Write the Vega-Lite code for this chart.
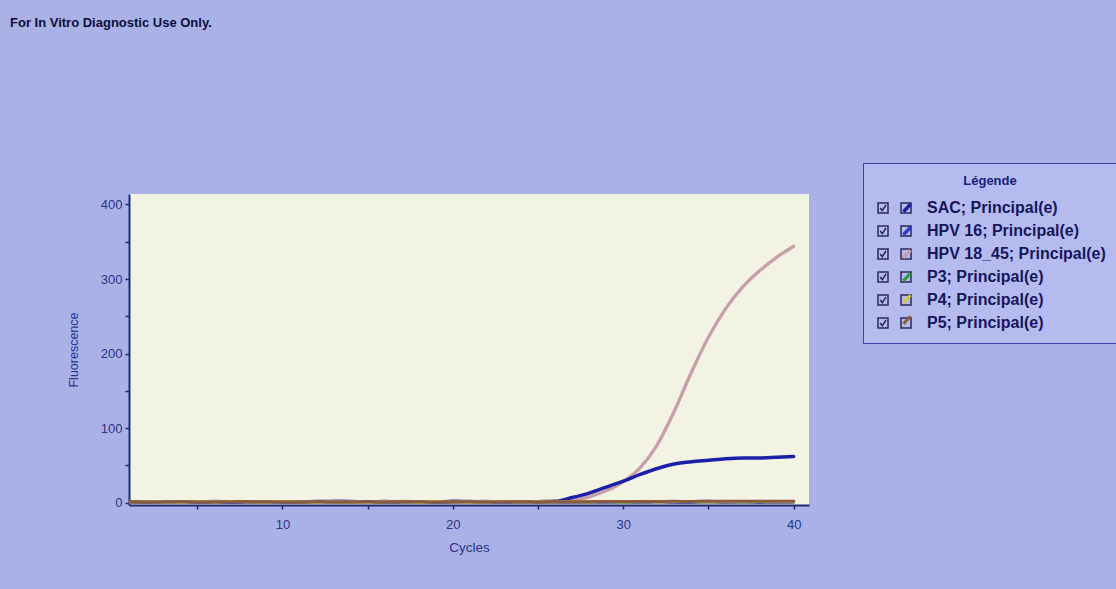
{
  "$schema": "https://vega.github.io/schema/vega-lite/v6.json",
  "width": 680,
  "height": 311,
  "autosize": {"type": "none"},
  "padding": {"left": 129, "top": 194, "right": 307, "bottom": 84},
  "background": "#a9b1e7",
  "view": {"fill": "#f3f3e4", "stroke": null},
  "title": {
    "text": "For In Vitro Diagnostic Use Only.",
    "anchor": "start",
    "frame": "group",
    "dx": -119,
    "offset": 133,
    "font": "Liberation Sans",
    "fontSize": 13,
    "fontWeight": "bold",
    "color": "#0e0e3a"
  },
  "datasets": {
    "curves": [
      {"c":1,"s":"P3","v":0.9},{"c":2,"s":"P3","v":1.4},{"c":3,"s":"P3","v":0.7},{"c":4,"s":"P3","v":1.2},{"c":5,"s":"P3","v":1.6},{"c":6,"s":"P3","v":0.8},{"c":7,"s":"P3","v":1.1},{"c":8,"s":"P3","v":0.6},{"c":9,"s":"P3","v":1.5},{"c":10,"s":"P3","v":1.3},
      {"c":11,"s":"P3","v":0.9},{"c":12,"s":"P3","v":1.2},{"c":13,"s":"P3","v":0.7},{"c":14,"s":"P3","v":1.0},{"c":15,"s":"P3","v":1.4},{"c":16,"s":"P3","v":0.8},{"c":17,"s":"P3","v":1.6},{"c":18,"s":"P3","v":0.9},{"c":19,"s":"P3","v":1.2},{"c":20,"s":"P3","v":0.7},
      {"c":21,"s":"P3","v":1.1},{"c":22,"s":"P3","v":1.5},{"c":23,"s":"P3","v":0.8},{"c":24,"s":"P3","v":1.3},{"c":25,"s":"P3","v":0.6},{"c":26,"s":"P3","v":1.0},{"c":27,"s":"P3","v":1.4},{"c":28,"s":"P3","v":0.9},{"c":29,"s":"P3","v":1.2},{"c":30,"s":"P3","v":0.7},
      {"c":31,"s":"P3","v":1.1},{"c":32,"s":"P3","v":1.5},{"c":33,"s":"P3","v":0.8},{"c":34,"s":"P3","v":1.0},{"c":35,"s":"P3","v":1.3},{"c":36,"s":"P3","v":0.9},{"c":37,"s":"P3","v":1.2},{"c":38,"s":"P3","v":0.7},{"c":39,"s":"P3","v":1.1},{"c":40,"s":"P3","v":1.0},

      {"c":1,"s":"HPV 18_45","v":0.8},{"c":2,"s":"HPV 18_45","v":1.2},{"c":3,"s":"HPV 18_45","v":1.0},{"c":4,"s":"HPV 18_45","v":1.5},{"c":5,"s":"HPV 18_45","v":0.7},{"c":6,"s":"HPV 18_45","v":1.3},{"c":7,"s":"HPV 18_45","v":1.1},{"c":8,"s":"HPV 18_45","v":0.9},{"c":9,"s":"HPV 18_45","v":1.4},{"c":10,"s":"HPV 18_45","v":1.6},
      {"c":11,"s":"HPV 18_45","v":1.2},{"c":12,"s":"HPV 18_45","v":1.5},{"c":13,"s":"HPV 18_45","v":0.8},{"c":14,"s":"HPV 18_45","v":1.1},{"c":15,"s":"HPV 18_45","v":1.3},{"c":16,"s":"HPV 18_45","v":1.0},{"c":17,"s":"HPV 18_45","v":1.7},{"c":18,"s":"HPV 18_45","v":1.4},{"c":19,"s":"HPV 18_45","v":1.2},{"c":20,"s":"HPV 18_45","v":0.9},
      {"c":21,"s":"HPV 18_45","v":1.1},{"c":22,"s":"HPV 18_45","v":1.3},{"c":23,"s":"HPV 18_45","v":1.0},{"c":24,"s":"HPV 18_45","v":1.4},{"c":25,"s":"HPV 18_45","v":1.2},{"c":26,"s":"HPV 18_45","v":1.5},{"c":27,"s":"HPV 18_45","v":3},{"c":28,"s":"HPV 18_45","v":8},{"c":29,"s":"HPV 18_45","v":16},{"c":30,"s":"HPV 18_45","v":28},
      {"c":31,"s":"HPV 18_45","v":47},{"c":32,"s":"HPV 18_45","v":78},{"c":33,"s":"HPV 18_45","v":123},{"c":34,"s":"HPV 18_45","v":175},{"c":35,"s":"HPV 18_45","v":222},{"c":36,"s":"HPV 18_45","v":260},{"c":37,"s":"HPV 18_45","v":289},{"c":38,"s":"HPV 18_45","v":311},{"c":39,"s":"HPV 18_45","v":329},{"c":40,"s":"HPV 18_45","v":344},

      {"c":1,"s":"SAC","v":1.1},{"c":2,"s":"SAC","v":0.7},{"c":3,"s":"SAC","v":1.3},{"c":4,"s":"SAC","v":1.0},{"c":5,"s":"SAC","v":0.8},{"c":6,"s":"SAC","v":1.4},{"c":7,"s":"SAC","v":1.2},{"c":8,"s":"SAC","v":0.6},{"c":9,"s":"SAC","v":1.5},{"c":10,"s":"SAC","v":1.1},
      {"c":11,"s":"SAC","v":0.9},{"c":12,"s":"SAC","v":1.6},{"c":13,"s":"SAC","v":1.8},{"c":14,"s":"SAC","v":1.4},{"c":15,"s":"SAC","v":1.2},{"c":16,"s":"SAC","v":1.7},{"c":17,"s":"SAC","v":1.0},{"c":18,"s":"SAC","v":1.3},{"c":19,"s":"SAC","v":0.8},{"c":20,"s":"SAC","v":1.9},
      {"c":21,"s":"SAC","v":1.6},{"c":22,"s":"SAC","v":1.4},{"c":23,"s":"SAC","v":1.1},{"c":24,"s":"SAC","v":1.0},{"c":25,"s":"SAC","v":1.5},{"c":26,"s":"SAC","v":2},{"c":27,"s":"SAC","v":7},{"c":28,"s":"SAC","v":13},{"c":29,"s":"SAC","v":21},{"c":30,"s":"SAC","v":29},
      {"c":31,"s":"SAC","v":38},{"c":32,"s":"SAC","v":46},{"c":33,"s":"SAC","v":52},{"c":34,"s":"SAC","v":55},{"c":35,"s":"SAC","v":57},{"c":36,"s":"SAC","v":59},{"c":37,"s":"SAC","v":60},{"c":38,"s":"SAC","v":60},{"c":39,"s":"SAC","v":61},{"c":40,"s":"SAC","v":62},

      {"c":1,"s":"HPV 16","v":1.2},{"c":2,"s":"HPV 16","v":0.8},{"c":3,"s":"HPV 16","v":1.5},{"c":4,"s":"HPV 16","v":0.6},{"c":5,"s":"HPV 16","v":1.1},{"c":6,"s":"HPV 16","v":1.7},{"c":7,"s":"HPV 16","v":0.9},{"c":8,"s":"HPV 16","v":1.3},{"c":9,"s":"HPV 16","v":0.5},{"c":10,"s":"HPV 16","v":1.0},
      {"c":11,"s":"HPV 16","v":1.4},{"c":12,"s":"HPV 16","v":0.7},{"c":13,"s":"HPV 16","v":1.6},{"c":14,"s":"HPV 16","v":1.9},{"c":15,"s":"HPV 16","v":0.8},{"c":16,"s":"HPV 16","v":1.2},{"c":17,"s":"HPV 16","v":0.6},{"c":18,"s":"HPV 16","v":1.5},{"c":19,"s":"HPV 16","v":1.0},{"c":20,"s":"HPV 16","v":0.9},
      {"c":21,"s":"HPV 16","v":1.3},{"c":22,"s":"HPV 16","v":1.8},{"c":23,"s":"HPV 16","v":0.7},{"c":24,"s":"HPV 16","v":1.1},{"c":25,"s":"HPV 16","v":1.4},{"c":26,"s":"HPV 16","v":0.6},{"c":27,"s":"HPV 16","v":1.0},{"c":28,"s":"HPV 16","v":1.2},{"c":29,"s":"HPV 16","v":0.8},{"c":30,"s":"HPV 16","v":1.5},
      {"c":31,"s":"HPV 16","v":0.9},{"c":32,"s":"HPV 16","v":1.3},{"c":33,"s":"HPV 16","v":0.7},{"c":34,"s":"HPV 16","v":1.1},{"c":35,"s":"HPV 16","v":1.6},{"c":36,"s":"HPV 16","v":0.8},{"c":37,"s":"HPV 16","v":1.2},{"c":38,"s":"HPV 16","v":1.0},{"c":39,"s":"HPV 16","v":0.9},{"c":40,"s":"HPV 16","v":1.3},

      {"c":1,"s":"P4","v":1.0},{"c":2,"s":"P4","v":1.3},{"c":3,"s":"P4","v":1.1},{"c":4,"s":"P4","v":0.8},{"c":5,"s":"P4","v":1.4},{"c":6,"s":"P4","v":1.2},{"c":7,"s":"P4","v":1.6},{"c":8,"s":"P4","v":1.0},{"c":9,"s":"P4","v":0.9},{"c":10,"s":"P4","v":1.5},
      {"c":11,"s":"P4","v":1.1},{"c":12,"s":"P4","v":0.8},{"c":13,"s":"P4","v":1.3},{"c":14,"s":"P4","v":1.0},{"c":15,"s":"P4","v":0.7},{"c":16,"s":"P4","v":1.4},{"c":17,"s":"P4","v":1.2},{"c":18,"s":"P4","v":0.9},{"c":19,"s":"P4","v":1.5},{"c":20,"s":"P4","v":1.1},
      {"c":21,"s":"P4","v":0.8},{"c":22,"s":"P4","v":1.2},{"c":23,"s":"P4","v":1.4},{"c":24,"s":"P4","v":1.0},{"c":25,"s":"P4","v":1.3},{"c":26,"s":"P4","v":1.1},{"c":27,"s":"P4","v":1.5},{"c":28,"s":"P4","v":1.2},{"c":29,"s":"P4","v":1.4},{"c":30,"s":"P4","v":1.3},
      {"c":31,"s":"P4","v":1.5},{"c":32,"s":"P4","v":1.2},{"c":33,"s":"P4","v":1.4},{"c":34,"s":"P4","v":1.6},{"c":35,"s":"P4","v":1.3},{"c":36,"s":"P4","v":1.5},{"c":37,"s":"P4","v":1.4},{"c":38,"s":"P4","v":1.6},{"c":39,"s":"P4","v":1.5},{"c":40,"s":"P4","v":1.4},

      {"c":1,"s":"P5","v":1.3},{"c":2,"s":"P5","v":1.0},{"c":3,"s":"P5","v":1.2},{"c":4,"s":"P5","v":1.5},{"c":5,"s":"P5","v":0.9},{"c":6,"s":"P5","v":1.1},{"c":7,"s":"P5","v":1.4},{"c":8,"s":"P5","v":1.6},{"c":9,"s":"P5","v":1.0},{"c":10,"s":"P5","v":1.2},
      {"c":11,"s":"P5","v":0.8},{"c":12,"s":"P5","v":1.3},{"c":13,"s":"P5","v":1.1},{"c":14,"s":"P5","v":0.9},{"c":15,"s":"P5","v":1.2},{"c":16,"s":"P5","v":1.0},{"c":17,"s":"P5","v":1.4},{"c":18,"s":"P5","v":1.3},{"c":19,"s":"P5","v":0.9},{"c":20,"s":"P5","v":1.5},
      {"c":21,"s":"P5","v":1.2},{"c":22,"s":"P5","v":1.0},{"c":23,"s":"P5","v":1.3},{"c":24,"s":"P5","v":1.4},{"c":25,"s":"P5","v":1.1},{"c":26,"s":"P5","v":1.6},{"c":27,"s":"P5","v":1.3},{"c":28,"s":"P5","v":1.5},{"c":29,"s":"P5","v":1.7},{"c":30,"s":"P5","v":1.6},
      {"c":31,"s":"P5","v":1.8},{"c":32,"s":"P5","v":1.7},{"c":33,"s":"P5","v":1.9},{"c":34,"s":"P5","v":1.8},{"c":35,"s":"P5","v":2.0},{"c":36,"s":"P5","v":1.9},{"c":37,"s":"P5","v":2.0},{"c":38,"s":"P5","v":2.1},{"c":39,"s":"P5","v":2.0},{"c":40,"s":"P5","v":2.1}
    ],
    "boxes": [
      {"label": "SAC; Principal(e)"},
      {"label": "HPV 16; Principal(e)"},
      {"label": "HPV 18_45; Principal(e)"},
      {"label": "P3; Principal(e)"},
      {"label": "P4; Principal(e)"},
      {"label": "P5; Principal(e)"}
    ]
  },
  "layer": [
    {
      "data": {"name": "curves"},
      "mark": {"type": "line", "interpolate": "monotone", "clip": true, "strokeCap": "round"},
      "encoding": {
        "x": {
          "field": "c", "type": "quantitative",
          "scale": {"domain": [1, 40.9], "nice": false, "zero": false},
          "axis": {
            "title": "Cycles",
            "values": [5, 10, 15, 20, 25, 30, 35, 40],
            "labelExpr": "datum.value % 10 === 0 ? datum.label : ''",
            "grid": false,
            "domainColor": "#1e2a6e", "domainWidth": 2,
            "tickColor": "#1e2a6e", "tickSize": 4, "tickWidth": 1.5,
            "labelColor": "#2a3585", "labelFont": "Liberation Sans", "labelFontSize": 13, "labelPadding": 9,
            "titleColor": "#2a3585", "titleFont": "Liberation Sans", "titleFontSize": 13.5, "titleFontWeight": "normal", "titlePadding": 9
          }
        },
        "y": {
          "field": "v", "type": "quantitative",
          "scale": {"domain": [-3, 414], "nice": false, "zero": false},
          "axis": {
            "title": "Fluorescence",
            "values": [0, 50, 100, 150, 200, 250, 300, 350, 400],
            "labelExpr": "datum.value % 100 === 0 ? datum.label : ''",
            "grid": false,
            "domainColor": "#1e2a6e", "domainWidth": 2,
            "tickColor": "#1e2a6e", "tickSize": 4, "tickWidth": 1.5,
            "labelColor": "#2a3585", "labelFont": "Liberation Sans", "labelFontSize": 13, "labelPadding": 3,
            "titleColor": "#2a3585", "titleFont": "Liberation Sans", "titleFontSize": 12.5, "titleFontWeight": "normal", "titlePadding": 20
          }
        },
        "color": {
          "field": "s", "type": "nominal",
          "scale": {
            "domain": ["SAC", "HPV 16", "HPV 18_45", "P3", "P4", "P5"],
            "range": ["#1b20a8", "#2f40d2", "#c79ea9", "#2e9a3e", "#d2c83a", "#8c5a3c"]
          },
          "legend": {
            "orient": "none", "legendX": 734, "legendY": -31,
            "title": "Légende", "titleOpacity": 0,
            "titleFont": "Liberation Sans", "titleFontSize": 13, "titleFontWeight": "bold", "titleAnchor": "middle", "titlePadding": 12,
            "labelFont": "Liberation Sans", "labelFontSize": 16, "labelFontWeight": "bold", "labelOpacity": 0, "labelOffset": 36,
            "labelExpr": "' '",
            "symbolType": "M3.9,0.75L5.3,-0.75", "symbolSize": 100, "symbolStrokeWidth": 2,
            "rowPadding": 1, "padding": 12, "zindex": 2
          }
        },
        "strokeWidth": {
          "field": "s", "type": "nominal",
          "scale": {"domain": ["SAC", "HPV 16", "HPV 18_45", "P3", "P4", "P5"], "range": [3.5, 3, 2.2, 3, 3, 3]},
          "legend": null
        }
      }
    },
    {
      "data": {"name": "boxes"},
      "mark": {"type": "point", "opacity": 0, "filled": false},
      "encoding": {
        "shape": {
          "field": "label", "type": "nominal",
          "scale": {
            "domain": ["SAC; Principal(e)", "HPV 16; Principal(e)", "HPV 18_45; Principal(e)", "P3; Principal(e)", "P4; Principal(e)", "P5; Principal(e)"],
            "range": [
              "M-1,-1H1V1H-1Z M-0.55,0L-0.15,0.55L0.6,-0.6 M3.6,-1H5.6V1H3.6Z",
              "M-1,-1H1V1H-1Z M-0.55,0L-0.15,0.55L0.6,-0.6 M3.6,-1H5.6V1H3.6Z",
              "M-1,-1H1V1H-1Z M-0.55,0L-0.15,0.55L0.6,-0.6 M3.6,-1H5.6V1H3.6Z",
              "M-1,-1H1V1H-1Z M-0.55,0L-0.15,0.55L0.6,-0.6 M3.6,-1H5.6V1H3.6Z",
              "M-1,-1H1V1H-1Z M-0.55,0L-0.15,0.55L0.6,-0.6 M3.6,-1H5.6V1H3.6Z",
              "M-1,-1H1V1H-1Z M-0.55,0L-0.15,0.55L0.6,-0.6 M3.6,-1H5.6V1H3.6Z"
            ]
          },
          "legend": {
            "orient": "none", "legendX": 734, "legendY": -31,
            "title": "Légende", "titleColor": "#1a1f7a",
            "titleFont": "Liberation Sans", "titleFontSize": 13, "titleFontWeight": "bold", "titleAnchor": "middle", "titlePadding": 12,
            "labelFont": "Liberation Sans", "labelFontSize": 16, "labelFontWeight": "bold", "labelColor": "#16165a", "labelOffset": 36, "labelLimit": 300,
            "symbolSize": 100, "symbolStrokeWidth": 1.5, "symbolStrokeColor": "#2a2a55", "symbolFillColor": "#dfe2f5", "symbolOpacity": 1,
            "rowPadding": 7, "padding": 12,
            "fillColor": "#b5bbef", "strokeColor": "#3a44a6", "zindex": 1
          }
        }
      }
    }
  ]
}
